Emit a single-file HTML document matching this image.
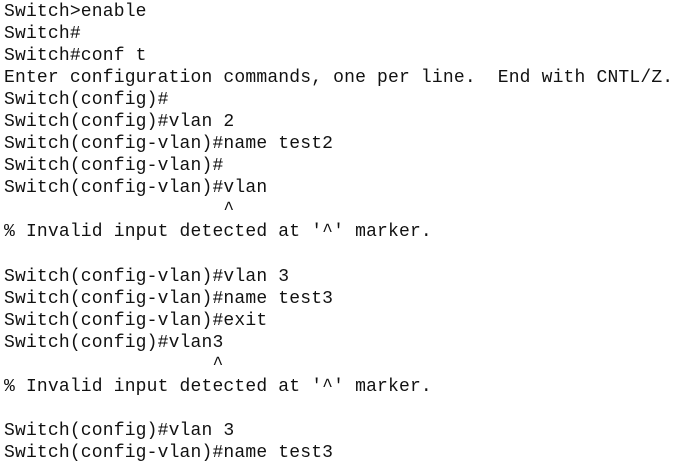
<!DOCTYPE html>
<html><head><meta charset="utf-8"><style>
html,body{margin:0;padding:0;background:#fff;width:683px;height:464px;overflow:hidden}
pre{margin:0;padding:1px 0 0 4px;font-family:"Liberation Mono","Courier New",monospace;font-size:18px;letter-spacing:0.17px;line-height:22.05px;color:#111;white-space:pre}
</style></head><body><pre>Switch&gt;enable
Switch#
Switch#conf t
Enter configuration commands, one per line.  End with CNTL/Z.
Switch(config)#
Switch(config)#vlan 2
Switch(config-vlan)#name test2
Switch(config-vlan)#
Switch(config-vlan)#vlan
                    ^
% Invalid input detected at '^' marker.

Switch(config-vlan)#vlan 3
Switch(config-vlan)#name test3
Switch(config-vlan)#exit
Switch(config)#vlan3
                   ^
% Invalid input detected at '^' marker.

Switch(config)#vlan 3
Switch(config-vlan)#name test3</pre></body></html>
